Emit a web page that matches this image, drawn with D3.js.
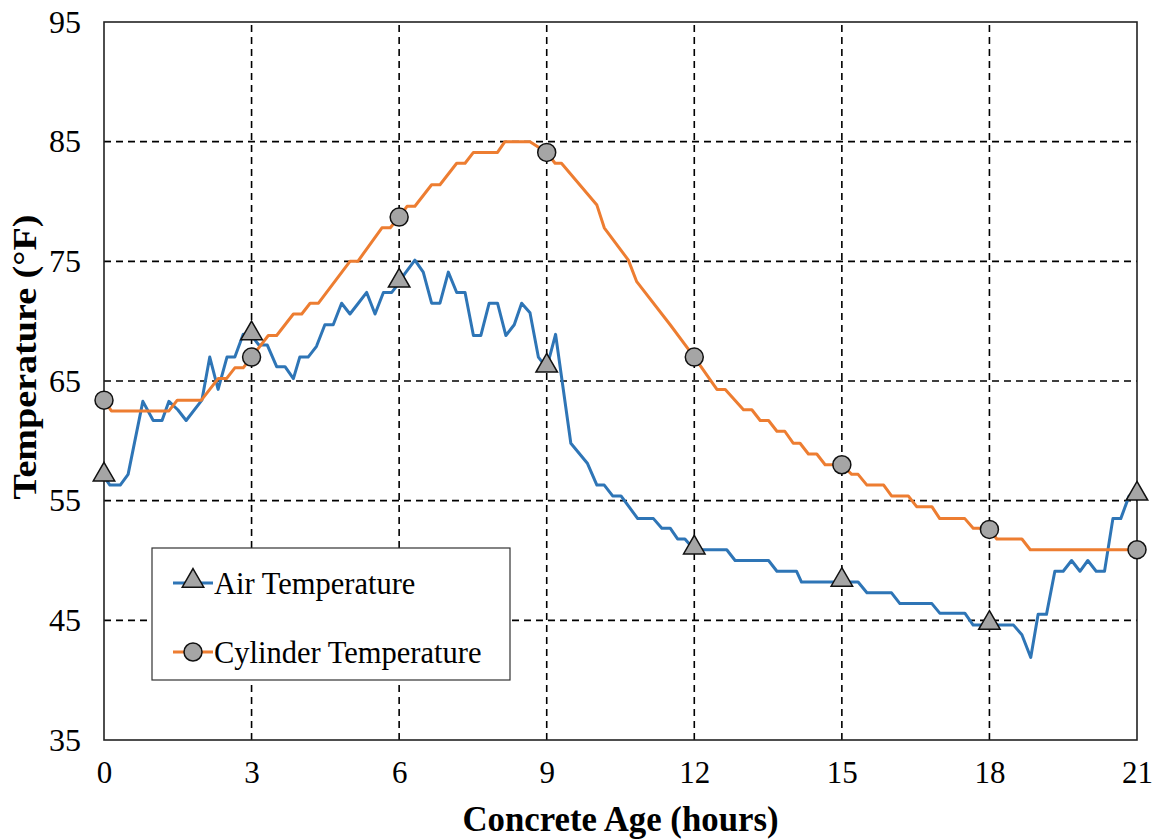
<!DOCTYPE html>
<html>
<head>
<meta charset="utf-8">
<script src="https://cdn.jsdelivr.net/npm/d3@7/dist/d3.min.js"></script>
<style>
  html, body { margin: 0; padding: 0; background: #ffffff; }
  svg { display: block; }
  text { font-family: "Liberation Serif", "Times New Roman", serif; fill: #000; }
</style>
</head>
<body>
<svg id="chart" width="1154" height="840"></svg>
<script>
// ---- Data (hours, °F) ----
const seriesNames = ["Air Temperature", "Cylinder Temperature"];
const xTicks = [0, 3, 6, 9, 12, 15, 18, 21];
const yTicks = [35, 45, 55, 65, 75, 85, 95];

const airTemperature = [
  [0.00,57.0],[0.12,56.3],[0.33,56.3],[0.49,57.2],[0.79,63.3],[1.00,61.7],[1.18,61.7],
  [1.32,63.3],[1.50,62.6],[1.67,61.7],[1.99,63.4],[2.15,67.0],[2.32,64.3],[2.50,67.0],
  [2.66,67.0],[2.83,68.9],[3.00,68.8],[3.15,68.0],[3.32,68.0],[3.51,66.2],[3.68,66.2],
  [3.85,65.2],[3.98,67.0],[4.15,67.0],[4.32,67.9],[4.49,69.7],[4.66,69.7],[4.83,71.5],
  [5.00,70.6],[5.17,71.5],[5.34,72.4],[5.51,70.6],[5.68,72.4],[5.85,72.4],[6.00,73.2],
  [6.12,74.0],[6.32,75.1],[6.49,74.1],[6.66,71.5],[6.83,71.5],[7.00,74.1],[7.17,72.4],
  [7.34,72.4],[7.51,68.8],[7.66,68.8],[7.83,71.5],[8.00,71.5],[8.17,68.8],[8.34,69.7],
  [8.49,71.5],[8.66,70.7],[8.83,67.0],[9.00,66.1],[9.18,68.9],[9.49,59.8],[9.83,58.1],
  [10.02,56.3],[10.17,56.3],[10.34,55.4],[10.51,55.4],[10.85,53.5],[11.17,53.5],
  [11.34,52.7],[11.51,52.7],[11.66,51.8],[11.81,51.8],[12.00,50.9],[12.66,50.9],
  [12.83,50.0],[13.51,50.0],[13.68,49.1],[14.08,49.1],[14.18,48.2],[15.00,48.2],
  [15.33,48.2],[15.51,47.3],[16.01,47.3],[16.18,46.4],[16.83,46.4],[16.99,45.6],
  [17.50,45.6],[17.67,44.6],[18.00,44.6],[18.49,44.6],[18.66,43.8],[18.84,41.9],
  [18.99,45.5],[19.16,45.5],[19.33,49.1],[19.50,49.1],[19.67,50.0],[19.84,49.1],
  [20.00,50.0],[20.17,49.1],[20.34,49.1],[20.51,53.5],[20.67,53.5],[20.84,55.4],[21.00,55.4]
];

const cylinderTemperature = [
  [0.00,63.4],[0.15,62.5],[1.32,62.5],[1.49,63.4],[1.98,63.4],[2.32,65.2],[2.49,65.2],
  [2.66,66.1],[2.83,66.1],[3.00,67.0],[3.17,67.9],[3.34,68.8],[3.51,68.8],[3.85,70.6],
  [4.02,70.6],[4.19,71.5],[4.36,71.5],[5.00,75.0],[5.16,75.0],[5.65,77.8],[5.82,77.8],
  [6.00,78.7],[6.16,79.6],[6.32,79.6],[6.66,81.4],[6.83,81.4],[7.17,83.2],[7.34,83.2],
  [7.51,84.1],[8.00,84.1],[8.15,85.0],[8.66,85.0],[9.00,84.1],[9.17,83.2],[9.30,83.2],
  [10.02,79.7],[10.17,77.8],[10.66,75.1],[10.83,73.3],[11.51,69.7],[12.00,67.0],
  [12.46,64.3],[12.63,64.3],[13.00,62.6],[13.17,62.6],[13.34,61.7],[13.51,61.7],
  [13.68,60.8],[13.84,60.8],[14.01,59.8],[14.15,59.8],[14.32,58.9],[14.49,58.9],
  [14.66,58.0],[15.00,58.0],[15.20,57.2],[15.33,57.2],[15.51,56.3],[15.85,56.3],
  [16.01,55.4],[16.35,55.4],[16.52,54.5],[16.83,54.5],[16.99,53.5],[17.50,53.5],
  [17.67,52.7],[17.84,52.7],[18.00,52.6],[18.15,51.8],[18.66,51.8],[18.83,50.9],[21.00,50.9]
];

const markerHours = [0, 3, 6, 9, 12, 15, 18, 21];

// ---- Layout ----
const svg = d3.select("#chart");
const margin = { left: 104, right: 17, top: 22, bottom: 100 };
const W = 1154, H = 840;
const x = d3.scaleLinear().domain([0, 21]).range([margin.left, W - margin.right]);
const y = d3.scaleLinear().domain([35, 95]).range([H - margin.bottom, margin.top]);

const blue = "#2E75B6", orange = "#ED7D31", markerFill = "#A5A5A5";

// gridlines
const grid = svg.append("g");
grid.selectAll("line.h").data(yTicks.filter(d => d > 35 && d < 95)).join("line")
  .attr("x1", x(0)).attr("x2", x(21)).attr("y1", d => y(d)).attr("y2", d => y(d))
  .attr("stroke", "#000").attr("stroke-width", 1.6).attr("stroke-dasharray", "7,5");
grid.selectAll("line.v").data(xTicks.filter(d => d > 0 && d < 21)).join("line")
  .attr("y1", y(35)).attr("y2", y(95)).attr("x1", d => x(d)).attr("x2", d => x(d))
  .attr("stroke", "#000").attr("stroke-width", 1.6).attr("stroke-dasharray", "7,5");

// plot border
svg.append("rect").attr("x", x(0)).attr("y", y(95))
  .attr("width", x(21) - x(0)).attr("height", y(35) - y(95))
  .attr("fill", "none").attr("stroke", "#222").attr("stroke-width", 1.6);

// axes (labels only)
const xAxis = d3.axisBottom(x).tickValues(xTicks).tickSize(0).tickPadding(21).tickFormat(d3.format("d"));
const gx = svg.append("g").attr("transform", `translate(0,${y(35)})`).call(xAxis);
gx.select(".domain").remove();
gx.selectAll("text").style("font-size", "31px").style("font-family", "Liberation Serif");

const yAxis = d3.axisLeft(y).tickValues(yTicks).tickSize(0).tickPadding(23).tickFormat(d3.format("d"));
const gy = svg.append("g").attr("transform", `translate(${x(0)},0)`).call(yAxis);
gy.select(".domain").remove();
gy.selectAll("text").style("font-size", "32px").style("font-family", "Liberation Serif");

// axis titles
svg.append("text").attr("x", (x(0) + x(21)) / 2).attr("y", 831)
  .attr("text-anchor", "middle").style("font-size", "35px").style("font-weight", "bold")
  .attr("textLength", 316).attr("lengthAdjust", "spacingAndGlyphs")
  .text("Concrete Age (hours)");
svg.append("text").attr("transform", `translate(36,357) rotate(-90)`)
  .attr("text-anchor", "middle").style("font-size", "33px").style("font-weight", "bold")
  .attr("textLength", 285).attr("lengthAdjust", "spacingAndGlyphs")
  .text("Temperature (°F)");

// lines
const line = d3.line().x(d => x(d[0])).y(d => y(d[1]));
svg.append("path").datum(airTemperature).attr("d", line)
  .attr("fill", "none").attr("stroke", blue).attr("stroke-width", 3).attr("stroke-linejoin", "round");
svg.append("path").datum(cylinderTemperature).attr("d", line)
  .attr("fill", "none").attr("stroke", orange).attr("stroke-width", 3).attr("stroke-linejoin", "round");

// markers
const tri = d3.symbol().type(d3.symbolTriangle).size(200);
const airMarkers = airTemperature.filter(d => markerHours.includes(d[0]));
const cylMarkers = cylinderTemperature.filter(d => markerHours.includes(d[0]));
svg.append("g").selectAll("path").data(airMarkers).join("path")
  .attr("d", tri).attr("transform", d => `translate(${x(d[0])},${y(d[1]) - 2})`)
  .attr("fill", markerFill).attr("stroke", "#111").attr("stroke-width", 1.5);
svg.append("g").selectAll("circle").data(cylMarkers).join("circle")
  .attr("cx", d => x(d[0])).attr("cy", d => y(d[1])).attr("r", 9)
  .attr("fill", markerFill).attr("stroke", "#111").attr("stroke-width", 1.5);

// legend
const lg = svg.append("g");
lg.append("rect").attr("x", 152).attr("y", 548).attr("width", 358).attr("height", 132)
  .attr("fill", "#fff").attr("stroke", "#333").attr("stroke-width", 1.2);
const legendItems = [
  { name: seriesNames[0], color: blue, shape: "tri", cy: 583 },
  { name: seriesNames[1], color: orange, shape: "circ", cy: 652 }
];
legendItems.forEach(it => {
  lg.append("line").attr("x1", 173).attr("x2", 213).attr("y1", it.cy).attr("y2", it.cy)
    .attr("stroke", it.color).attr("stroke-width", 3);
  if (it.shape === "tri") {
    lg.append("path").attr("d", tri).attr("transform", `translate(193,${it.cy - 2})`)
      .attr("fill", markerFill).attr("stroke", "#111").attr("stroke-width", 1.5);
  } else {
    lg.append("circle").attr("cx", 193).attr("cy", it.cy).attr("r", 9)
      .attr("fill", markerFill).attr("stroke", "#111").attr("stroke-width", 1.5);
  }
  lg.append("text").attr("x", 214).attr("y", it.cy).attr("dy", "0.35em")
    .style("font-size", "30.5px").text(it.name);
});
</script>
</body>
</html>
